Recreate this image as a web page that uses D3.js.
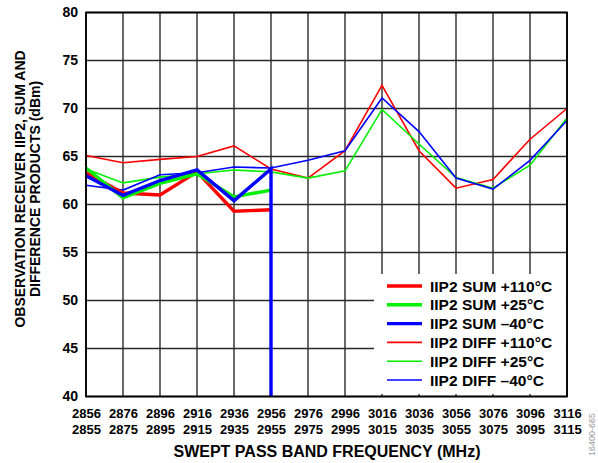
<!DOCTYPE html>
<html>
<head>
<meta charset="utf-8">
<script src="https://cdn.jsdelivr.net/npm/d3@7"></script>
<style>
  html, body { margin: 0; padding: 0; background: #fff; }
  svg { display: block; font-family: "Liberation Sans", Arial, sans-serif; font-weight: bold; }
</style>
</head>
<body>
<svg id="chart" width="598" height="463"></svg>
<script>
// Swept pass band frequencies (MHz): upper and lower tones
const freqs = [2856, 2876, 2896, 2916, 2936, 2956, 2976, 2996, 3016, 3036, 3056, 3076, 3096, 3116];
const freqsLow = [2855, 2875, 2895, 2915, 2935, 2955, 2975, 2995, 3015, 3035, 3055, 3075, 3095, 3115];
const yTicks = [40, 45, 50, 55, 60, 65, 70, 75, 80];

// IIP2 difference products (dBm), full sweep
const diff110 = [65.1, 64.35, 64.7, 65.0, 66.1, 63.7, 62.75, 65.6, 72.4, 65.6, 61.7, 62.6, 66.8, 70.0];
const diff25  = [63.7, 62.25, 62.85, 63.2, 63.6, 63.4, 62.75, 63.5, 69.9, 66.3, 62.8, 61.7, 64.1, 69.0];
const diffM40 = [62.0, 61.5, 63.1, 63.3, 63.9, 63.8, 64.6, 65.6, 71.1, 67.6, 62.75, 61.6, 64.6, 68.75];

// IIP2 sum products (dBm), partial sweep
const sumFreqs = [2856, 2876, 2896, 2916, 2936, 2956];
const sum110 = [63.3, 61.2, 61.0, 63.4, 59.3, 59.45];
const sum25  = [63.8, 60.7, 62.2, 63.2, 60.8, 61.5];
const sumM40Freqs = [2856, 2876, 2896, 2916, 2936, 2956, 2956];
const sumM40 = [63.0, 60.95, 62.5, 63.6, 60.4, 63.7, 40];

const seriesNames = ["IIP2 SUM +110°C", "IIP2 SUM +25°C", "IIP2 SUM \u201340°C",
                     "IIP2 DIFF +110°C", "IIP2 DIFF +25°C", "IIP2 DIFF \u201340°C"];

const RED = "#ff0000", GREEN = "#00f000", BLUE = "#0000ff";
const THICK = 3.4, THIN = 1.6;

const series = [
  { name: seriesNames[3], xs: freqs, ys: diff110, color: RED, width: THIN },
  { name: seriesNames[4], xs: freqs, ys: diff25, color: GREEN, width: THIN },
  { name: seriesNames[5], xs: freqs, ys: diffM40, color: BLUE, width: THIN },
  { name: seriesNames[0], xs: sumFreqs, ys: sum110, color: RED, width: THICK },
  { name: seriesNames[1], xs: sumFreqs, ys: sum25, color: GREEN, width: THICK },
  { name: seriesNames[2], xs: sumM40Freqs, ys: sumM40, color: BLUE, width: THICK }
];

const svg = d3.select("#chart");
const L = 86, R = 567, T = 12.5, B = 396.5;

const x = d3.scaleLinear().domain([2856, 3116]).range([L, R]);
const y = d3.scaleLinear().domain([40, 80]).range([B, T]);

// grid
const grid = svg.append("g");
grid.selectAll("line.v").data(freqs).join("line")
  .attr("x1", d => x(d)).attr("x2", d => x(d))
  .attr("y1", T).attr("y2", B)
  .attr("stroke", "#2a2a2a").attr("stroke-width", 1.4);
grid.selectAll("line.h").data(yTicks).join("line")
  .attr("x1", L).attr("x2", R)
  .attr("y1", d => y(d)).attr("y2", d => y(d))
  .attr("stroke", "#2a2a2a").attr("stroke-width", 1.4);

// legend background
const lg = svg.append("g");
lg.append("rect")
  .attr("x", 374).attr("y", 274).attr("width", 192).attr("height", 120)
  .attr("fill", "#fff");

// data lines
const line = d3.line().x(d => x(d[0])).y(d => y(d[1]));
svg.append("g").selectAll("path").data(series).join("path")
  .attr("d", s => line(s.xs.map((f, i) => [f, s.ys[i]])))
  .attr("fill", "none")
  .attr("stroke", s => s.color)
  .attr("stroke-width", s => s.width)
  .attr("stroke-linejoin", "miter");

// frame
svg.append("rect")
  .attr("x", L).attr("y", T).attr("width", R - L).attr("height", B - T)
  .attr("fill", "none").attr("stroke", "#000").attr("stroke-width", 1.8);

// y axis labels
const yAxis = d3.axisLeft(y).tickValues(yTicks).tickSize(0).tickPadding(8);
svg.append("g").attr("transform", `translate(${L},0)`).call(yAxis)
  .call(g => g.select(".domain").remove())
  .selectAll("text").attr("font-size", 14).attr("font-weight", "bold")
  .attr("font-family", "Liberation Sans, Arial, sans-serif").attr("fill", "#000");

// x axis labels, two rows
const xAxisTop = d3.axisBottom(x).tickValues(freqs).tickSize(0).tickPadding(12).tickFormat(d3.format("d"));
svg.append("g").attr("transform", `translate(0,${B})`).call(xAxisTop)
  .call(g => g.select(".domain").remove())
  .selectAll("text").attr("font-size", 13).attr("font-weight", "bold")
  .attr("font-family", "Liberation Sans, Arial, sans-serif").attr("fill", "#000");

const xLow = d3.scaleLinear().domain([2855, 3115]).range([L, R]);
const xAxisBottom = d3.axisBottom(xLow).tickValues(freqsLow).tickSize(0).tickPadding(28).tickFormat(d3.format("d"));
svg.append("g").attr("transform", `translate(0,${B})`).call(xAxisBottom)
  .call(g => g.select(".domain").remove())
  .selectAll("text").attr("font-size", 13).attr("font-weight", "bold")
  .attr("font-family", "Liberation Sans, Arial, sans-serif").attr("fill", "#000");

// axis titles
svg.append("text")
  .attr("x", 327).attr("y", 457).attr("text-anchor", "middle")
  .attr("font-size", 16).attr("fill", "#000")
  .text("SWEPT PASS BAND FREQUENCY (MHz)");

const yt = svg.append("text")
  .attr("transform", "translate(25,189) rotate(-90)")
  .attr("text-anchor", "middle").attr("font-size", 14).attr("fill", "#000");
yt.append("tspan").attr("x", 0).attr("y", 0).text("OBSERVATION RECEIVER IIP2, SUM AND");
yt.append("tspan").attr("x", 0).attr("y", 14.5).text("DIFFERENCE PRODUCTS (dBm)");

// legend entries
const rowY = d => 286 + d * 18.8;
seriesNames.forEach((name, i) => {
  const s = series.find(v => v.name === name);
  lg.append("line")
    .attr("x1", 387).attr("x2", 422).attr("y1", rowY(i)).attr("y2", rowY(i))
    .attr("stroke", s.color).attr("stroke-width", s.width);
  lg.append("text")
    .attr("x", 430).attr("y", rowY(i) + 5.5)
    .attr("font-size", 15.5).attr("fill", "#000")
    .text(name);
});
svg.node().appendChild(lg.node());

// figure id
svg.append("text")
  .attr("transform", "translate(595,456) rotate(-90)")
  .attr("font-size", 9).attr("font-weight", "normal").attr("fill", "#999")
  .text("16400-665");
</script>
</body>
</html>
